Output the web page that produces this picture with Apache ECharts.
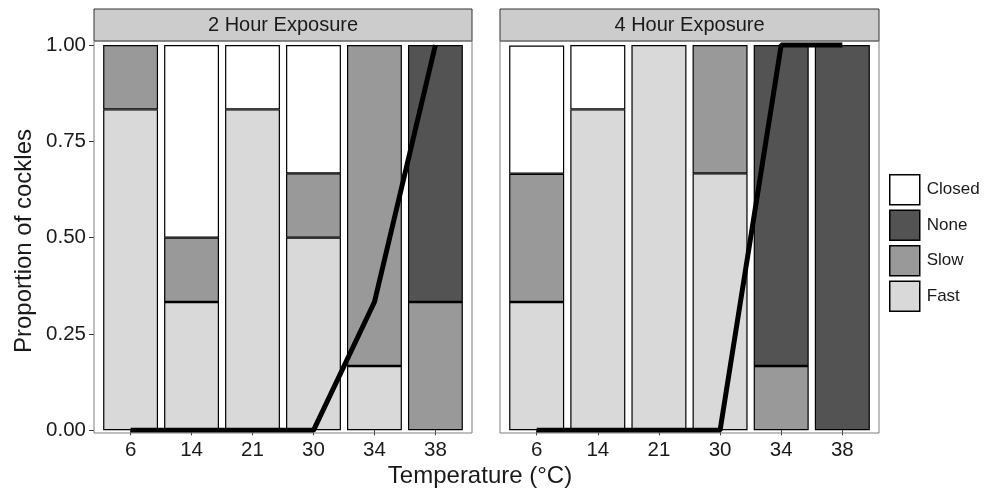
<!DOCTYPE html>
<html>
<head>
    <meta charset="utf-8">
    <title>Cockle response</title>
    <script src="https://cdn.jsdelivr.net/npm/echarts@6.0.0/dist/echarts.min.js"></script>
    <style>
        html, body { margin: 0; padding: 0; background: #fff; }
        #main { width: 987px; height: 490px; }
    </style>
</head>
<body>
<div id="main"></div>
<script>
    // temperatures (x categories)
    var temps = ['6', '14', '21', '30', '34', '38'];
    var panels = ['2 Hour Exposure', '4 Hour Exposure'];
    var yTicks = [0, 0.25, 0.5, 0.75, 1];

    // 2 hour exposure, proportions
    var fast2h   = [0.833, 0.333, 0.833, 0.5, 0.167, 0];
    var slow2h   = [0.167, 0.167, 0, 0.167, 0.833, 0.333];
    var none2h   = [0, 0, 0, 0, 0, 0.667];
    var closed2h = [0, 0.5, 0.167, 0.333, 0, 0];
    var line2h   = [0, 0, 0, 0, 0.333, 1];

    // 4 hour exposure, proportions
    var fast4h   = [0.333, 0.833, 1, 0.667, 0, 0];
    var slow4h   = [0.333, 0, 0, 0.333, 0.167, 0];
    var none4h   = [0, 0, 0, 0, 0.833, 1];
    var closed4h = [0.333, 0.167, 0, 0, 0, 0];
    var line4h   = [0, 0, 0, 0, 1, 1];

    var colors = {Fast: '#d9d9d9', Slow: '#999999', None: '#535353', Closed: '#ffffff'};
    var font = '"Liberation Sans", Arial, Helvetica, sans-serif';
    var txt = '#1a1a1a';

    var myChart = echarts.init(document.getElementById('main'), null, {renderer: 'canvas'});

    function barSeries(name, arr, idx) {
        return {
            name: name,
            type: 'bar',
            stack: 'p' + idx,
            xAxisIndex: idx,
            yAxisIndex: idx,
            barWidth: '90%',
            itemStyle: {color: colors[name], borderColor: '#000', borderWidth: 1.2},
            emphasis: {disabled: true},
            // empty segments are skipped so they do not draw an extra border
            data: arr.map(function (v) { return v === 0 ? '-' : v; })
        };
    }

    function lineSeries(arr, idx) {
        return {
            name: 'line' + idx,
            type: 'line',
            xAxisIndex: idx,
            yAxisIndex: idx,
            symbol: 'none',
            z: 5,
            lineStyle: {color: '#000', width: 5, cap: 'butt'},
            data: arr
        };
    }

    // panel boxes (outer frame) ; the category grid sits inside with ggplot-like 0.6 band padding
    var panelBox = [
        {x: 94, y: 41, w: 378, h: 392},
        {x: 500, y: 41, w: 379, h: 392}
    ];

    var gridList = [], xAxes = [], yAxes = [], graphics = [];
    panelBox.forEach(function (p, i) {
        var band = p.w / 6.2;
        gridList.push({left: p.x + band * 0.1, top: p.y, width: band * 6, height: p.h});
        xAxes.push({
            type: 'category', gridIndex: i, data: temps,
            axisLine: {show: false},
            splitLine: {show: false},
            axisTick: {show: true, alignWithLabel: true, interval: 0, length: 5, lineStyle: {color: '#333'}},
            axisLabel: {interval: 0, margin: 7, fontSize: 20.5, color: txt, fontFamily: font}
        });
        yAxes.push({
            type: 'value', gridIndex: i, min: -0.007, max: 1.0105,
            offset: band * 0.1,
            axisLine: {show: false},
            splitLine: {show: false},
            axisTick: {show: i === 0, length: 5, lineStyle: {color: '#333'}, customValues: yTicks},
            axisLabel: {
                show: i === 0, customValues: yTicks,
                margin: 8, fontSize: 20.5, color: txt, fontFamily: font,
                formatter: function (v) { return v.toFixed(2); }
            }
        });
        // panel border
        graphics.push({
            type: 'rect', z: 10,
            shape: {x: p.x, y: p.y, width: p.w, height: p.h},
            style: {fill: null, stroke: '#7f7f7f', lineWidth: 1}
        });
        // facet strip
        graphics.push({
            type: 'rect',
            shape: {x: p.x, y: 9, width: p.w, height: 32},
            style: {fill: '#cccccc', stroke: '#333', lineWidth: 1}
        });
        graphics.push({
            type: 'text',
            x: p.x + p.w / 2, y: 25,
            style: {text: panels[i], font: '20px ' + font, fill: txt, textAlign: 'center', textVerticalAlign: 'middle'}
        });
    });

    graphics.push({
        type: 'text', x: 480, y: 476,
        style: {text: 'Temperature (°C)', font: '24px ' + font, fill: txt, textAlign: 'center', textVerticalAlign: 'middle'}
    });
    graphics.push({
        type: 'text', x: 24, y: 241, rotation: Math.PI / 2,
        style: {text: 'Proportion of cockles', font: '24px ' + font, fill: txt, textAlign: 'center', textVerticalAlign: 'middle'}
    });

    var option = {
        animation: false,
        grid: gridList,
        xAxis: xAxes,
        yAxis: yAxes,
        legend: {
            orient: 'vertical',
            left: 889, top: 174, padding: 0,
            itemWidth: 30, itemHeight: 30, itemGap: 4,
            icon: 'rect',
            data: ['Closed', 'None', 'Slow', 'Fast'],
            itemStyle: {borderColor: '#000', borderWidth: 1.5},
            textStyle: {fontSize: 17, color: txt, fontFamily: font, padding: [0, 0, 0, 2]},
            selectedMode: false
        },
        graphic: graphics,
        series: [
            barSeries('Fast', fast2h, 0),
            barSeries('Slow', slow2h, 0),
            barSeries('None', none2h, 0),
            barSeries('Closed', closed2h, 0),
            lineSeries(line2h, 0),
            barSeries('Fast', fast4h, 1),
            barSeries('Slow', slow4h, 1),
            barSeries('None', none4h, 1),
            barSeries('Closed', closed4h, 1),
            lineSeries(line4h, 1)
        ]
    };
    myChart.setOption(option);
</script>
</body>
</html>
